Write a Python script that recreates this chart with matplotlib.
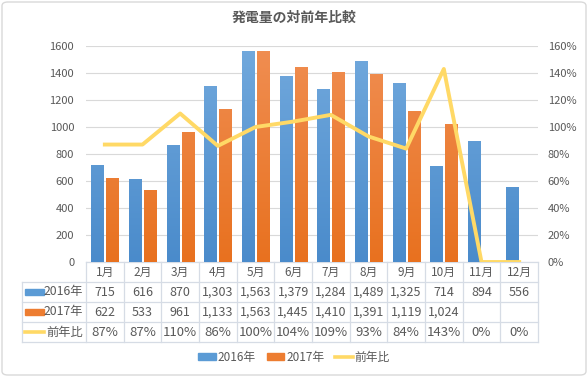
import matplotlib
matplotlib.use('Agg')
import matplotlib.pyplot as plt
import matplotlib.transforms as mtransforms
from matplotlib.patches import Rectangle, FancyBboxPatch
from matplotlib.lines import Line2D
from matplotlib.colors import LinearSegmentedColormap
from matplotlib.ticker import FuncFormatter
import numpy as np

plt.rcParams['font.family'] = ['Noto Sans CJK JP', 'DejaVu Sans']

title = '発電量の対前年比較'
months = ['1月', '2月', '3月', '4月', '5月', '6月', '7月', '8月', '9月', '10月', '11月', '12月']
gen_2016 = [715, 616, 870, 1303, 1563, 1379, 1284, 1489, 1325, 714, 894, 556]
gen_2017 = [622, 533, 961, 1133, 1563, 1445, 1410, 1391, 1119, 1024]
ratio = [0.87, 0.87, 1.10, 0.86, 1.00, 1.04, 1.09, 0.93, 0.84, 1.43, 0.0, 0.0]
series_names = ['2016年', '2017年', '前年比']

C16 = '#5B9BD5'
C17 = '#ED7D31'
C16_top, C16_bot = '#72A9DD', '#4A8BCB'
C17_top, C17_bot = '#F08E52', '#E8711F'
CR = '#FFD966'
TXT = '#595959'
GRID = '#D9D9D9'
TBL = '#D6DCE5'

W, H = 588, 377
fig = plt.figure(figsize=(W / 100, H / 100), dpi=100)
fig.patch.set_facecolor('white')
fig.patches.append(FancyBboxPatch((2 / W, 2 / H), 1 - 4 / W, 1 - 4 / H,
                                  boxstyle='round,pad=0,rounding_size=0.01',
                                  transform=fig.transFigure, fc='none', ec='#D9D9D9', lw=1))

ax = fig.add_axes([86 / W, 1 - 262 / H, (538 - 86) / W, (262 - 46) / H])
ax2 = ax.twinx()

x = np.arange(len(months))
bw = 0.32
b16 = ax.bar(x - 0.2, gen_2016, width=bw, color=C16, zorder=3)
b17 = ax.bar(np.arange(len(gen_2017)) + 0.2, gen_2017, width=bw, color=C17, zorder=3)
ax2.plot(x, ratio, color=CR, lw=2.8, zorder=4)

ax.set_xlim(-0.5, len(months) - 0.5)
ax.set_ylim(0, 1600)
ax.set_yticks(range(0, 1601, 200))
ax2.set_ylim(0, 1.6)
ax2.set_yticks(np.arange(0, 1.61, 0.2))
ax2.yaxis.set_major_formatter(FuncFormatter(lambda v, p: f'{round(v * 100)}%'))
ax.set_xticks([])
for a in (ax, ax2):
    for s in a.spines.values():
        s.set_visible(False)
    a.tick_params(axis='y', length=0, labelsize=8, labelcolor=TXT)
ax.tick_params(axis='y', pad=8.5)
ax2.tick_params(axis='y', pad=7)
ax.grid(axis='y', color=GRID, lw=0.8, zorder=0)
ax.set_axisbelow(True)

# subtle vertical gradient on bars
grad = np.linspace(0, 1, 256).reshape(-1, 1)
for bars, top, bot in ((b16, C16_top, C16_bot), (b17, C17_top, C17_bot)):
    cmap = LinearSegmentedColormap.from_list('g', [bot, top])
    for p in bars:
        x0 = p.get_x()
        im = ax.imshow(grad, cmap=cmap, aspect='auto', origin='lower',
                       extent=(x0, x0 + p.get_width(), 0, 1600), zorder=3.5)
        im.set_clip_path(p)
ax.set_xlim(-0.5, len(months) - 0.5)
ax.set_ylim(0, 1600)

fig.text(0.5, 1 - 18 / H, title, ha='center', va='center', fontsize=10,
         fontweight='bold', color=TXT)

# data table
tr = mtransforms.blended_transform_factory(ax.transData, ax.transAxes)
r = 20 / 216
px = (538 - 86) / 12
xl = -0.5 - (86 - 22) / px
xr = len(months) - 0.5
lk = dict(color=TBL, lw=0.9, transform=tr, clip_on=False)
ax.plot([-0.5, xr], [0, 0], **lk)
for k in range(1, 5):
    ax.plot([xl, xr], [-k * r, -k * r], **lk)
ax.plot([xl, xl], [-r, -4 * r], **lk)
for i in range(len(months) + 1):
    ax.plot([i - 0.5, i - 0.5], [0, -4 * r], **lk)

tk = dict(transform=tr, ha='center', va='center', color=TXT, clip_on=False)
for i, m in enumerate(months):
    ax.text(i, -0.5 * r, m, fontsize=8.5, **tk)
    ax.text(i, -1.5 * r, f'{gen_2016[i]:,}', fontsize=9, **tk)
    if i < len(gen_2017):
        ax.text(i, -2.5 * r, f'{gen_2017[i]:,}', fontsize=9, **tk)
    ax.text(i, -3.5 * r, f'{round(ratio[i] * 100)}%', fontsize=9.5, **tk)

hx0 = -0.5 - (86 - 25) / px
hx1 = -0.5 - (86 - 44) / px
tx = -0.5 - (86 - 83) / px
hh = 6 / 216
ax.add_patch(Rectangle((hx0, -1.5 * r - hh / 2), hx1 - hx0, hh, color=C16, transform=tr, clip_on=False))
ax.add_patch(Rectangle((hx0, -2.5 * r - hh / 2), hx1 - hx0, hh, color=C17, transform=tr, clip_on=False))
ax.plot([hx0, hx1], [-3.5 * r, -3.5 * r], color=CR, lw=2.6, transform=tr, clip_on=False)
for k, nm in enumerate(series_names):
    ax.text(tx, -(1.5 + k) * r, nm, transform=tr, ha='right', va='center',
            fontsize=8.8, color=TXT, clip_on=False)

handles = [Rectangle((0, 0), 1, 1, color=C16), Rectangle((0, 0), 1, 1, color=C17),
           Line2D([0], [0], color=CR, lw=2.6)]
fig.legend(handles, series_names, loc='center', bbox_to_anchor=(0.5, 1 - 357 / H), ncol=3,
           frameon=False, fontsize=8.5, labelcolor=TXT, handlelength=1.5, handleheight=0.5,
           handletextpad=0.15, columnspacing=0.9)

fig.savefig('out.png', dpi=100)
